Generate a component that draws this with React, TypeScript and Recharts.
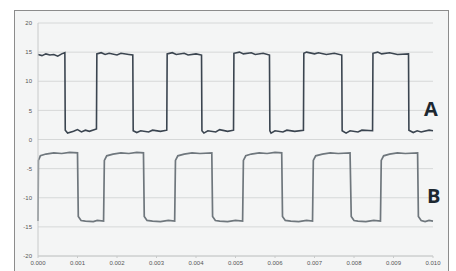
import { LineChart, Line, XAxis, YAxis, CartesianGrid } from 'recharts';

// time axis (seconds)
const timeTicks = [0, 0.001, 0.002, 0.003, 0.004, 0.005, 0.006, 0.007, 0.008, 0.009, 0.01];
const voltTicks = [-20, -15, -10, -5, 0, 5, 10, 15, 20];

// trace A: [t, value]
const traceA: [number, number][] = [
  [0, 14.6], [0.0001, 14.4], [0.0002, 14.7], [0.0003, 14.5], [0.0004, 14.6], [0.0005, 14.3], [0.0006, 14.7], [0.00068, 14.9],
  [0.00069, 1.6], [0.00075, 1.1], [0.0009, 1.4], [0.001, 1.7], [0.0011, 1.3], [0.0012, 1.6], [0.0013, 1.4], [0.00148, 1.8],
  [0.00149, 14.7], [0.0016, 14.9], [0.0017, 14.6], [0.0018, 14.8], [0.002, 14.5], [0.0021, 14.8], [0.0023, 14.6], [0.0024, 14.5],
  [0.00241, 1.5], [0.0025, 1.2], [0.0026, 1.5], [0.0028, 1.3], [0.0029, 1.6], [0.0031, 1.4], [0.00326, 1.6],
  [0.00327, 14.7], [0.0034, 14.9], [0.0035, 14.6], [0.0037, 14.8], [0.0038, 14.5], [0.004, 14.7], [0.00414, 14.5],
  [0.00415, 1.5], [0.0042, 1.1], [0.0043, 1.5], [0.0045, 1.3], [0.0046, 1.7], [0.0048, 1.4], [0.00495, 1.6],
  [0.00496, 14.8], [0.0051, 15.0], [0.0052, 14.7], [0.0054, 14.9], [0.0055, 14.6], [0.0057, 14.8], [0.00586, 14.5],
  [0.00587, 1.5], [0.0059, 1.1], [0.006, 1.5], [0.0062, 1.3], [0.0063, 1.6], [0.0065, 1.4], [0.00672, 1.6],
  [0.00673, 14.8], [0.0068, 15.0], [0.007, 14.7], [0.0071, 14.9], [0.0073, 14.6], [0.0075, 14.8], [0.00769, 14.5],
  [0.0077, 1.5], [0.0078, 1.1], [0.0079, 1.5], [0.0081, 1.3], [0.0082, 1.6], [0.00847, 1.5],
  [0.00848, 14.8], [0.0086, 15.0], [0.0087, 14.7], [0.0089, 14.9], [0.0091, 14.6], [0.00938, 14.7],
  [0.00939, 1.6], [0.0095, 1.2], [0.0096, 1.5], [0.0097, 1.3], [0.0099, 1.6], [0.01, 1.5],
];

// trace B: [t, value]
const traceB: [number, number][] = [
  [0, -14.0], [0.00001, -3.6], [0.00006, -2.8], [0.0002, -2.5], [0.0004, -2.3], [0.0006, -2.4], [0.0008, -2.2], [0.001, -2.3],
  [0.00102, -13.2], [0.00109, -13.9], [0.0012, -14.0], [0.0014, -14.1], [0.0015, -13.9], [0.00166, -14.0],
  [0.00168, -3.6], [0.00174, -2.8], [0.0019, -2.5], [0.0021, -2.3], [0.0023, -2.4], [0.0025, -2.2], [0.00267, -2.3],
  [0.00269, -13.2], [0.00276, -13.9], [0.0029, -14.0], [0.0031, -14.1], [0.0033, -13.9], [0.00346, -14.0],
  [0.00348, -3.6], [0.00354, -2.8], [0.0037, -2.5], [0.0039, -2.3], [0.0041, -2.4], [0.0044, -2.3],
  [0.00442, -13.2], [0.00449, -13.9], [0.0046, -14.0], [0.0048, -14.1], [0.005, -13.9], [0.00518, -14.0],
  [0.0052, -3.6], [0.00526, -2.8], [0.0054, -2.5], [0.0056, -2.3], [0.0058, -2.4], [0.006, -2.2], [0.00617, -2.3],
  [0.00619, -13.2], [0.00626, -13.9], [0.0064, -14.0], [0.0066, -14.1], [0.0068, -13.9], [0.00695, -14.0],
  [0.00697, -3.6], [0.00703, -2.8], [0.0072, -2.5], [0.0074, -2.3], [0.0076, -2.4], [0.0079, -2.3],
  [0.00793, -13.2], [0.008, -13.9], [0.0081, -14.0], [0.0083, -14.1], [0.0085, -13.9], [0.00867, -14.0],
  [0.00869, -3.6], [0.00875, -2.8], [0.0089, -2.5], [0.0091, -2.3], [0.0093, -2.4], [0.00961, -2.3],
  [0.00963, -13.2], [0.0097, -13.9], [0.0098, -14.1], [0.0099, -13.9], [0.01, -14.0],
];

const dataA = traceA.map(([t, v]) => ({ t, v }));
const dataB = traceB.map(([t, v]) => ({ t, v }));

const tickStyle = { fontSize: 6, fill: '#555', fontFamily: 'Arial, "Liberation Sans", sans-serif' };

export default function App() {
  return (
    <div style={{ position: 'absolute', left: 0, top: 0, width: 456, height: 271, overflow: 'hidden', background: '#fff' }}>
      <div
        style={{
          position: 'absolute',
          left: 14,
          top: 10,
          width: 433,
          height: 280,
          border: '1px solid #8c8c8c',
          background: '#f4f5f5',
        }}
      />
      <div style={{ position: 'absolute', left: 0, top: 0 }}>
        <LineChart width={456} height={271} margin={{ top: 23, right: 23, bottom: 0, left: 14 }}>
          <CartesianGrid horizontal vertical={false} stroke="#d6d8d8" />
          <XAxis
            type="number"
            dataKey="t"
            domain={[0, 0.01]}
            ticks={timeTicks}
            tickFormatter={(v: number) => v.toFixed(3)}
            height={15}
            tick={tickStyle}
            tickSize={2}
            tickMargin={3}
            stroke="#c8caca"
            allowDuplicatedCategory={false}
          />
          <YAxis
            type="number"
            domain={[-20, 20]}
            ticks={voltTicks}
            width={24}
            tick={tickStyle}
            tickLine={false}
            tickSize={0}
            tickMargin={6}
            stroke="#c8caca"
          />
          <Line
            data={dataA}
            dataKey="v"
            type="linear"
            stroke="#3b4550"
            strokeWidth={1.6}
            dot={false}
            isAnimationActive={false}
          />
          <Line
            data={dataB}
            dataKey="v"
            type="linear"
            stroke="#6f777d"
            strokeWidth={1.7}
            dot={false}
            isAnimationActive={false}
          />
        </LineChart>
      </div>
      <svg width={456} height={271} style={{ position: 'absolute', left: 0, top: 0 }}>
        <text x={424} y={116} fontSize={20} fontWeight="bold" fill="#1d2831" fontFamily='"Open Sans", sans-serif'>
          A
        </text>
        <text x={427} y={203} fontSize={20} fontWeight="bold" fill="#1d2831" fontFamily='"Open Sans", sans-serif'>
          B
        </text>
      </svg>
    </div>
  );
}
